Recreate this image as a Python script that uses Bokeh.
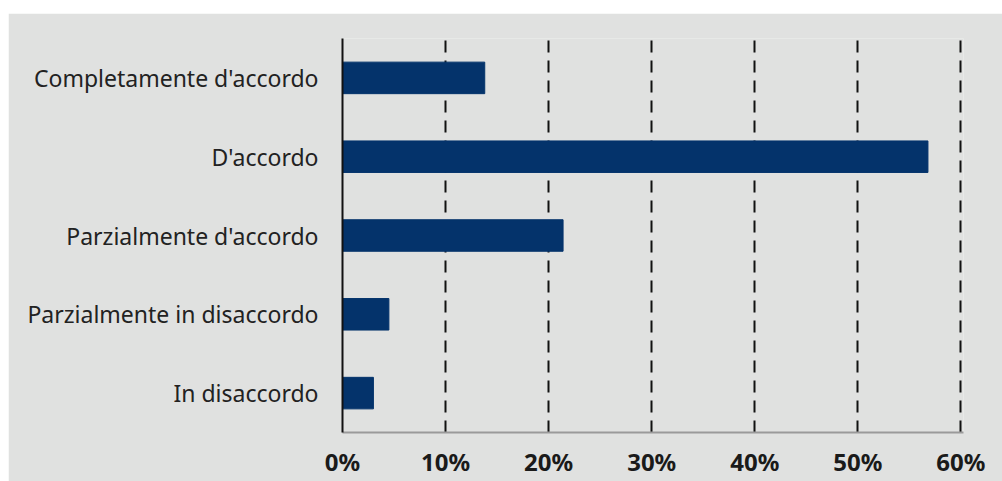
from bokeh.plotting import figure
from bokeh.models import FactorRange, Range1d, FixedTicker, NumeralTickFormatter, Spacer
from bokeh.layouts import column, row
from bokeh.embed import file_html
from bokeh.resources import INLINE

categories = ["Completamente d'accordo", "D'accordo", "Parzialmente d'accordo",
              "Parzialmente in disaccordo", "In disaccordo"]
values = [0.138, 0.568, 0.214, 0.045, 0.030]
x_ticks = [0.0, 0.1, 0.2, 0.3, 0.4, 0.5, 0.6]

BG = "#e0e1e0"
BAR = "#04336b"

p = figure(width=994, height=468, output_backend="svg", toolbar_location=None,
           y_range=FactorRange(*reversed(categories), range_padding=0),
           x_range=Range1d(0, 0.6025),
           background_fill_color=BG, border_fill_color=BG,
           min_border_left=334, min_border_right=39, min_border_top=25, min_border_bottom=49)
p.outline_line_color = None

p.hbar(y=categories, right=values, left=0, height=0.4, color=BAR)

p.xaxis.ticker = FixedTicker(ticks=x_ticks)
p.xaxis.formatter = NumeralTickFormatter(format="0%")
p.xaxis.axis_line_color = "#9a9a9a"
p.xaxis.axis_line_width = 2
p.xaxis.major_tick_line_color = None
p.xaxis.minor_tick_line_color = None
p.xaxis.major_tick_out = 0
p.xaxis.major_tick_in = 0
p.xaxis.major_label_text_font = "Noto Sans"
p.xaxis.major_label_text_font_style = "bold"
p.xaxis.major_label_text_font_size = "24px"
p.xaxis.major_label_text_color = "#1a1a1a"
p.xaxis.major_label_standoff = 12

p.yaxis.axis_line_color = "#111111"
p.yaxis.axis_line_width = 2
p.yaxis.major_tick_line_color = None
p.yaxis.minor_tick_line_color = None
p.yaxis.major_tick_out = 0
p.yaxis.major_tick_in = 0
p.yaxis.major_label_text_font = "Noto Sans"
p.yaxis.major_label_text_font_size = "23px"
p.yaxis.major_label_text_color = "#222222"
p.yaxis.major_label_standoff = 24

p.ygrid.grid_line_color = None
p.xgrid.ticker = FixedTicker(ticks=x_ticks[1:])
p.xgrid.grid_line_color = "#111111"
p.xgrid.grid_line_width = 2
p.xgrid.grid_line_dash = "12 8"

layout = column(Spacer(height=13, width=1002), row(Spacer(width=8, height=468), p))
open("out.html", "w").write(file_html(layout, INLINE))
